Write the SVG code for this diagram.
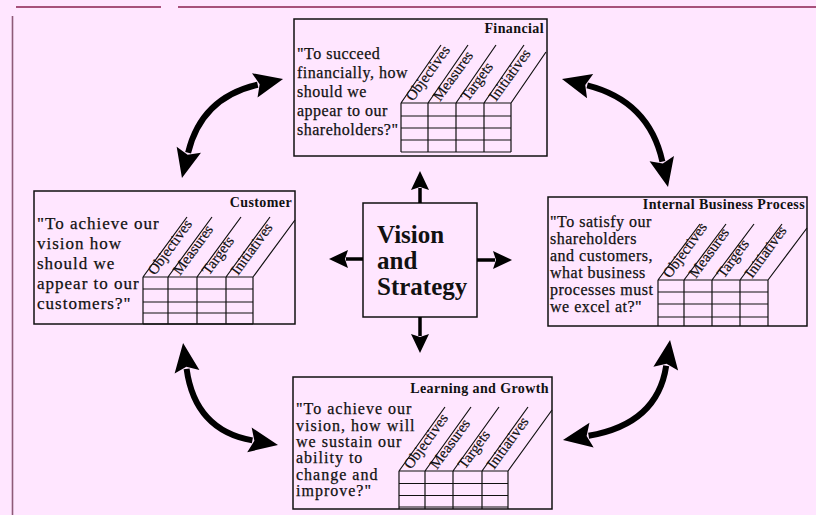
<svg xmlns="http://www.w3.org/2000/svg" width="816" height="515" viewBox="0 0 816 515">
<style>
.bg{fill:#FFE6FF}
.box{fill:none;stroke:#111;stroke-width:1.5}
.q{font-family:"Liberation Serif","Times New Roman",serif;font-size:16px;fill:#111;stroke:#111;stroke-width:0.25}
.t{font-family:"Liberation Serif","Times New Roman",serif;font-weight:bold;font-size:14px;letter-spacing:0.4px;text-anchor:end;fill:#111}
.g{stroke:#111;stroke-width:1.2;fill:none}
.l{font-family:"Liberation Serif","Times New Roman",serif;font-size:15px;fill:#111;stroke:#111;stroke-width:0.2}
.vs{font-family:"Liberation Serif","Times New Roman",serif;font-weight:bold;font-size:25px;fill:#111}
.c{stroke:#000;fill:none;stroke-width:6}
.s{stroke:#000;fill:none;stroke-width:3.5}
</style>
<defs>
<marker id="big" markerUnits="userSpaceOnUse" markerWidth="34" markerHeight="28" refX="3" refY="12.5" orient="auto-start-reverse" overflow="visible"><path d="M0,0 L29,12.5 L0,25 L5,12.5 z" fill="#000"/></marker>
<marker id="sm" markerUnits="userSpaceOnUse" markerWidth="22" markerHeight="20" refX="2" refY="9" orient="auto" overflow="visible"><path d="M0,0 L19,9 L0,18 L3,9 z" fill="#000"/></marker>
</defs>
<rect class="bg" x="0" y="0" width="816" height="515"/>
<g id="frame">
<line x1="16" y1="7" x2="161" y2="7" stroke="#8A1F4F" stroke-width="1.6"/>
<line x1="178" y1="7" x2="816" y2="7" stroke="#8A1F4F" stroke-width="1.6"/>
<line x1="12.5" y1="16" x2="12.5" y2="515" stroke="#8E5A78" stroke-width="1.6"/>
</g>

<g id="financial">
<rect class="box" x="294" y="19" width="253" height="137"/>
<text class="t" x="544" y="33">Financial</text>
<text class="q" style="letter-spacing:0.5px"><tspan x="297" y="59">"To succeed</tspan><tspan x="297" y="78">financially, how</tspan><tspan x="297" y="97">should we</tspan><tspan x="297" y="116">appear to our</tspan><tspan x="297" y="135">shareholders?"</tspan></text>
<path class="g" d="M401,103V152M428,103V152M456,103V152M484,103V152M511,103V152M401,103H511M401,116H511M401,128H511M401,140H511M401,152H511M401,103L441,45M428,103L468,45M456,103L496,45M484,103L524,45M511,103L546,52"/>
<text class="l" transform="translate(413,102) rotate(-54)">Objectives</text>
<text class="l" transform="translate(440,102) rotate(-54)">Measures</text>
<text class="l" transform="translate(468,102) rotate(-54)">Targets</text>
<text class="l" transform="translate(496,102) rotate(-54)">Initiatives</text>
</g>

<g id="customer">
<rect class="box" x="34" y="191" width="261" height="133"/>
<text class="t" x="292" y="207">Customer</text>
<text class="q" style="font-size:17px;letter-spacing:1px"><tspan x="37" y="229">"To achieve our</tspan><tspan x="37" y="249">vision how</tspan><tspan x="37" y="269">should we</tspan><tspan x="37" y="289">appear to our</tspan><tspan x="37" y="309">customers?"</tspan></text>
<path class="g" d="M143,277V324M168,277V324M197,277V324M226,277V324M253,277V324M143,277H253M143,289H253M143,302H253M143,313H253M143,324H253M143,277L187,217M168,277L212,217M197,277L241,217M226,277L270,217M253,277L295,220"/>
<text class="l" transform="translate(155,276) rotate(-54)">Objectives</text>
<text class="l" transform="translate(180,276) rotate(-54)">Measures</text>
<text class="l" transform="translate(209,276) rotate(-54)">Targets</text>
<text class="l" transform="translate(238,276) rotate(-54)">Initiatives</text>
</g>

<g id="internal">
<rect class="box" x="548" y="197" width="259" height="129"/>
<text class="t" x="805" y="209">Internal Business Process</text>
<text class="q" style="letter-spacing:0.5px"><tspan x="550" y="227">"To satisfy our</tspan><tspan x="550" y="244">shareholders</tspan><tspan x="550" y="261">and customers,</tspan><tspan x="550" y="278">what business</tspan><tspan x="550" y="295">processes must</tspan><tspan x="550" y="312">we excel at?"</tspan></text>
<path class="g" d="M658,280V326M684,280V326M712,280V326M740,280V326M768,280V326M658,280H768M658,292H768M658,304H768M658,317H768M658,280L700,224M684,280L726,224M712,280L754,224M740,280L782,224M768,280L807,228"/>
<text class="l" transform="translate(670,279) rotate(-54)">Objectives</text>
<text class="l" transform="translate(696,279) rotate(-54)">Measures</text>
<text class="l" transform="translate(724,279) rotate(-54)">Targets</text>
<text class="l" transform="translate(752,279) rotate(-54)">Initiatives</text>
</g>

<g id="learning">
<rect class="box" x="293" y="377" width="259" height="132"/>
<text class="t" x="549" y="393">Learning and Growth</text>
<text class="q" style="letter-spacing:1px"><tspan x="296" y="414">"To achieve our</tspan><tspan x="296" y="431">vision, how will</tspan><tspan x="296" y="447">we sustain our</tspan><tspan x="296" y="463">ability to</tspan><tspan x="296" y="480">change and</tspan><tspan x="296" y="496">improve?"</tspan></text>
<path class="g" d="M399,471V509M425,471V509M453,471V509M482,471V509M508,471V509M399,471H508M399,483.5H508M399,495.5H508M399,507H508M399,471L445,407M425,471L471,407M453,471L499,407M482,471L528,407M508,471L552,410"/>
<text class="l" transform="translate(411,470) rotate(-54)">Objectives</text>
<text class="l" transform="translate(437,470) rotate(-54)">Measures</text>
<text class="l" transform="translate(465,470) rotate(-54)">Targets</text>
<text class="l" transform="translate(494,470) rotate(-54)">Initiatives</text>
</g>

<g id="vision">
<rect class="box" x="363" y="203" width="114" height="114"/>
<text class="vs"><tspan x="377" y="243">Vision</tspan><tspan x="377" y="269">and</tspan><tspan x="377" y="295">Strategy</tspan></text>
</g>

<g id="connectors">
<line class="s" x1="420" y1="203" x2="420" y2="188" marker-end="url(#sm)"/>
<line class="s" x1="363" y1="259" x2="346" y2="259" marker-end="url(#sm)"/>
<line class="s" x1="477" y1="260" x2="495" y2="260" marker-end="url(#sm)"/>
<line class="s" x1="420" y1="317" x2="420" y2="336" marker-end="url(#sm)"/>
<path class="c" d="M257.7,84.7 Q201.5,97.5 188.1,152.7" marker-start="url(#big)" marker-end="url(#big)"/>
<path class="c" d="M587.2,85.4 Q649,101 662.4,161.6" marker-start="url(#big)" marker-end="url(#big)"/>
<path class="c" d="M186.6,368.8 Q195,430 252.4,440.4" marker-start="url(#big)" marker-end="url(#big)"/>
<path class="c" d="M666.2,365.7 Q657.5,424 588.6,435.7" marker-start="url(#big)" marker-end="url(#big)"/>
</g>
</svg>
